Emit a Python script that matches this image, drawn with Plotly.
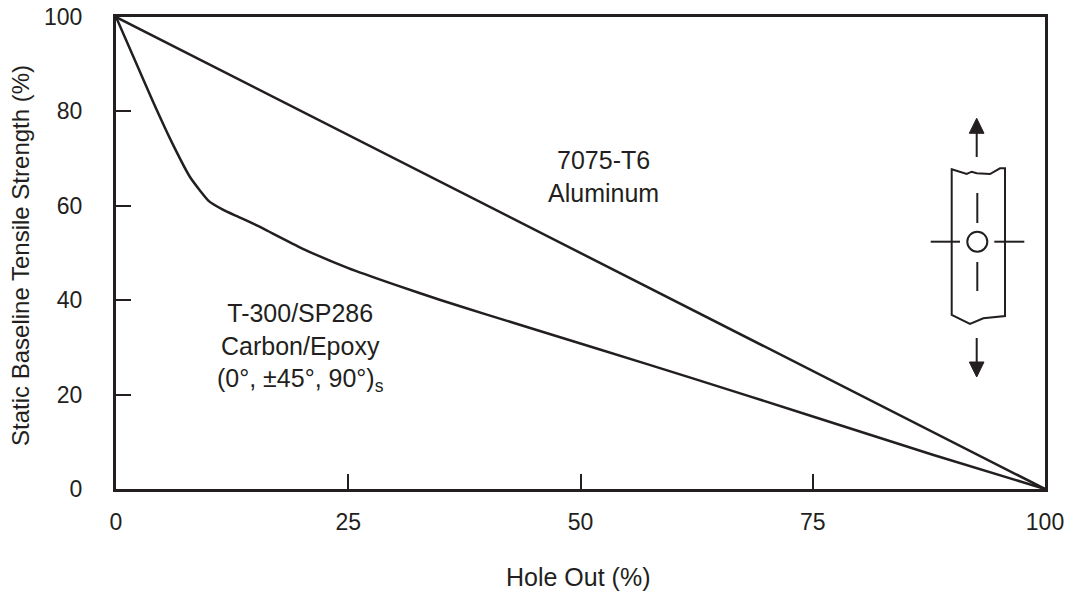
import plotly.graph_objects as go

# ---- data ----
hole_out_al = [0, 100]
strength_al = [100, 0]

hole_out_cf = [0, 2, 4, 6, 8, 10, 11.5, 13, 15, 20, 25, 30, 35, 40, 52, 62, 74, 88, 100]
strength_cf = [100, 91, 82, 73.5, 66, 61, 59.2, 57.8, 56, 51, 46.8, 43.3, 40.0, 36.9, 29.6, 23.5, 16, 7.2, 0]

x_ticks = [0, 25, 50, 75, 100]
y_ticks = [0, 20, 40, 60, 80, 100]

FONT = "Arial, Liberation Sans, Helvetica, sans-serif"
INK = "#231f20"

# plot area in pixels (for the decorative specimen icon and titles)
W, H = 1078, 595
L, R, T, B = 116, 1045, 17, 489
def dx(px):
    return (px - L) / (R - L) * 100
def dy(py):
    return (B - py) / (B - T) * 100
def px_(px):
    return (px - L) / (R - L)
def py_(py):
    return (B - py) / (B - T)

fig = go.Figure()
fig.add_trace(go.Scatter(x=hole_out_al, y=strength_al, mode="lines",
                         line=dict(color=INK, width=2.5), showlegend=False))
fig.add_trace(go.Scatter(x=hole_out_cf, y=strength_cf, mode="lines",
                         line=dict(color=INK, width=2.5, shape="spline", smoothing=0.5),
                         showlegend=False))

shapes = []
lw = 2
# specimen outline with jagged ends
top = [(951.7, 169.3), (966.7, 174), (971.7, 171.7), (976.7, 173.3), (990, 174), (1000, 168.3), (1005, 168.3)]
bot = [(1005, 316), (983.3, 318.3), (970, 324), (951.7, 315)]
pts = top + bot
path = "M " + " L ".join(f"{dx(a):.3f},{dy(b):.3f}" for a, b in pts) + " Z"
shapes.append(dict(type="path", path=path, xref="x", yref="y", line=dict(color=INK, width=lw)))
# hole
cx, cy, r = 977.3, 241.7, 10
shapes.append(dict(type="circle", xref="x", yref="y", x0=dx(cx - r), x1=dx(cx + r),
                   y0=dy(cy + r), y1=dy(cy - r), line=dict(color=INK, width=lw)))
# centre lines
for (x0, y0, x1, y1) in [(930.7, cy, 960, cy), (994.3, cy, 1024.3, cy),
                         (cx, 193, cx, 223), (cx, 262, cx, 291),
                         (976.7, 133, 976.7, 157), (976.7, 338, 976.7, 362)]:
    shapes.append(dict(type="line", xref="x", yref="y", x0=dx(x0), y0=dy(y0), x1=dx(x1), y1=dy(y1),
                       line=dict(color=INK, width=lw)))
# arrowheads
up = [(976.7, 118.3), (969.3, 133.3), (984, 133.3)]
dn = [(976.7, 377), (969.3, 362), (984, 362)]
for tri in (up, dn):
    p = "M " + " L ".join(f"{dx(a):.3f},{dy(b):.3f}" for a, b in tri) + " Z"
    shapes.append(dict(type="path", path=p, xref="x", yref="y", fillcolor=INK,
                       line=dict(color=INK, width=1)))

fig.update_layout(
    width=W, height=H,
    margin=dict(l=L, r=W - R, t=T, b=H - B, autoexpand=False),
    paper_bgcolor="white", plot_bgcolor="white",
    font=dict(family=FONT, color=INK, size=22),
    shapes=shapes,
    annotations=[
        dict(x=dx(603), y=dy(176), xref="x", yref="y", showarrow=False,
             text="7075-T6<br>Aluminum", font=dict(size=25, family=FONT, color=INK), align="center"),
        dict(x=dx(300), y=dy(347), xref="x", yref="y", showarrow=False,
             text="T-300/SP286<br>Carbon/Epoxy<br>(0°, ±45°, 90°)<sub>s</sub>",
             font=dict(size=25, family=FONT, color=INK), align="center"),
        dict(x=px_(20), y=py_(256), xref="paper", yref="paper", showarrow=False, textangle=-90,
             text="Static Baseline Tensile Strength (%)", xanchor="center", yanchor="middle",
             font=dict(size=24, family=FONT, color=INK)),
        dict(x=px_(578), y=py_(577), xref="paper", yref="paper", showarrow=False,
             text="Hole Out (%)", xanchor="center", yanchor="middle",
             font=dict(size=25, family=FONT, color=INK)),
    ],
)
axis_common = dict(range=[0, 100], showgrid=False, zeroline=False, showline=True, mirror=True,
                   automargin=False,
                   linecolor=INK, linewidth=3, ticks="inside", ticklen=15, tickwidth=2,
                   tickcolor=INK, tickfont=dict(size=23, family=FONT, color=INK))
fig.update_xaxes(**axis_common, tickvals=x_ticks, ticktext=[str(v) for v in x_ticks],
                 ticklabelstandoff=10)
fig.update_yaxes(**axis_common, tickvals=y_ticks, ticktext=[str(v) for v in y_ticks],
                 ticklabelstandoff=26)

fig.write_html("out.html")
